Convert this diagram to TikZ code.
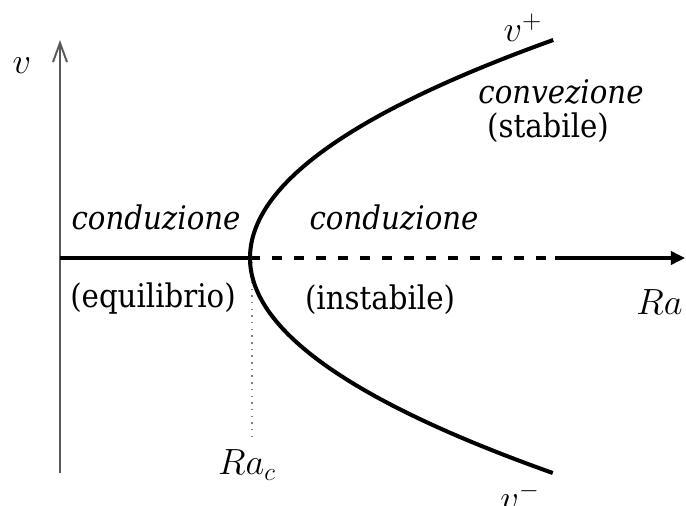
\documentclass[tikz,border=0pt]{standalone}
\usepackage{fontspec}
\setmainfont{DejaVu Serif Condensed}
\usetikzlibrary{arrows.meta}
\begin{document}
\begin{tikzpicture}[x=0.02cm,y=-0.02cm,
  lbl/.style={font=\fontsize{18.5}{22}\selectfont, inner sep=0pt},
  mlbl/.style={font=\fontsize{21.5}{25}\selectfont, inner sep=0pt},
  curve/.style={line width=2.3pt, black},
  axisv/.style={line width=1.1pt, black!65, -{Straight Barb[length=11pt,width=8pt,line width=1.1pt]}},
  axish/.style={line width=1.8pt, black, -{Triangle[length=8pt,width=7.5pt]}}]
\useasboundingbox (0,0) rectangle (686,506);
\coordinate (O) at (60,258);
\coordinate (vtop) at (60,40);
\coordinate (vbot) at (60,473);
\coordinate (V) at (250,258);
\coordinate (dend) at (555,258);
\coordinate (htip) at (685,258);
\coordinate (dtop) at (252,262);
\coordinate (dbot) at (252,440);
% axes
\draw[axisv] (vbot) -- (vtop);
\draw[axish] (dend) -- (htip);
\draw[curve] (O) -- (V);
\draw[line width=2pt, dash pattern=on 5.7pt off 6.8pt] (V) -- (dend);
\draw[black!50, line width=0.8pt, dash pattern=on 0.8pt off 3pt] (dtop) -- (dbot);
% parabola
\draw[curve] plot[domain=0:218, samples=80] ({250+63.8*(\x/100)*(\x/100)}, {258-\x});
\draw[curve] plot[domain=0:215, samples=80] ({250+65.5*(\x/100)*(\x/100)}, {258+\x});
% labels
\node[mlbl] (lv) at (22,66) {$v$};
\node[lbl] (c1) at (156,218) {\textit{conduzione}};
\node[lbl] (e1) at (153,299) {(equilibrio)};
\node[lbl] (c2) at (394,218) {\textit{conduzione}};
\node[lbl] (i1) at (380,300) {(instabile)};
\node[mlbl, anchor=east] (lRa) at (683,302) {$Ra$};
\node[mlbl] (lRac) at (247,465) {$Ra_c$};
\node[mlbl] (lvp) at (523,28) {$v^+$};
\node[lbl] (cv) at (561,92) {\textit{convezione}};
\node[lbl] (st) at (548,128) {(stabile)};
\node[mlbl] (lvm) at (520,497) {$v^-$};
\end{tikzpicture}
\end{document}
